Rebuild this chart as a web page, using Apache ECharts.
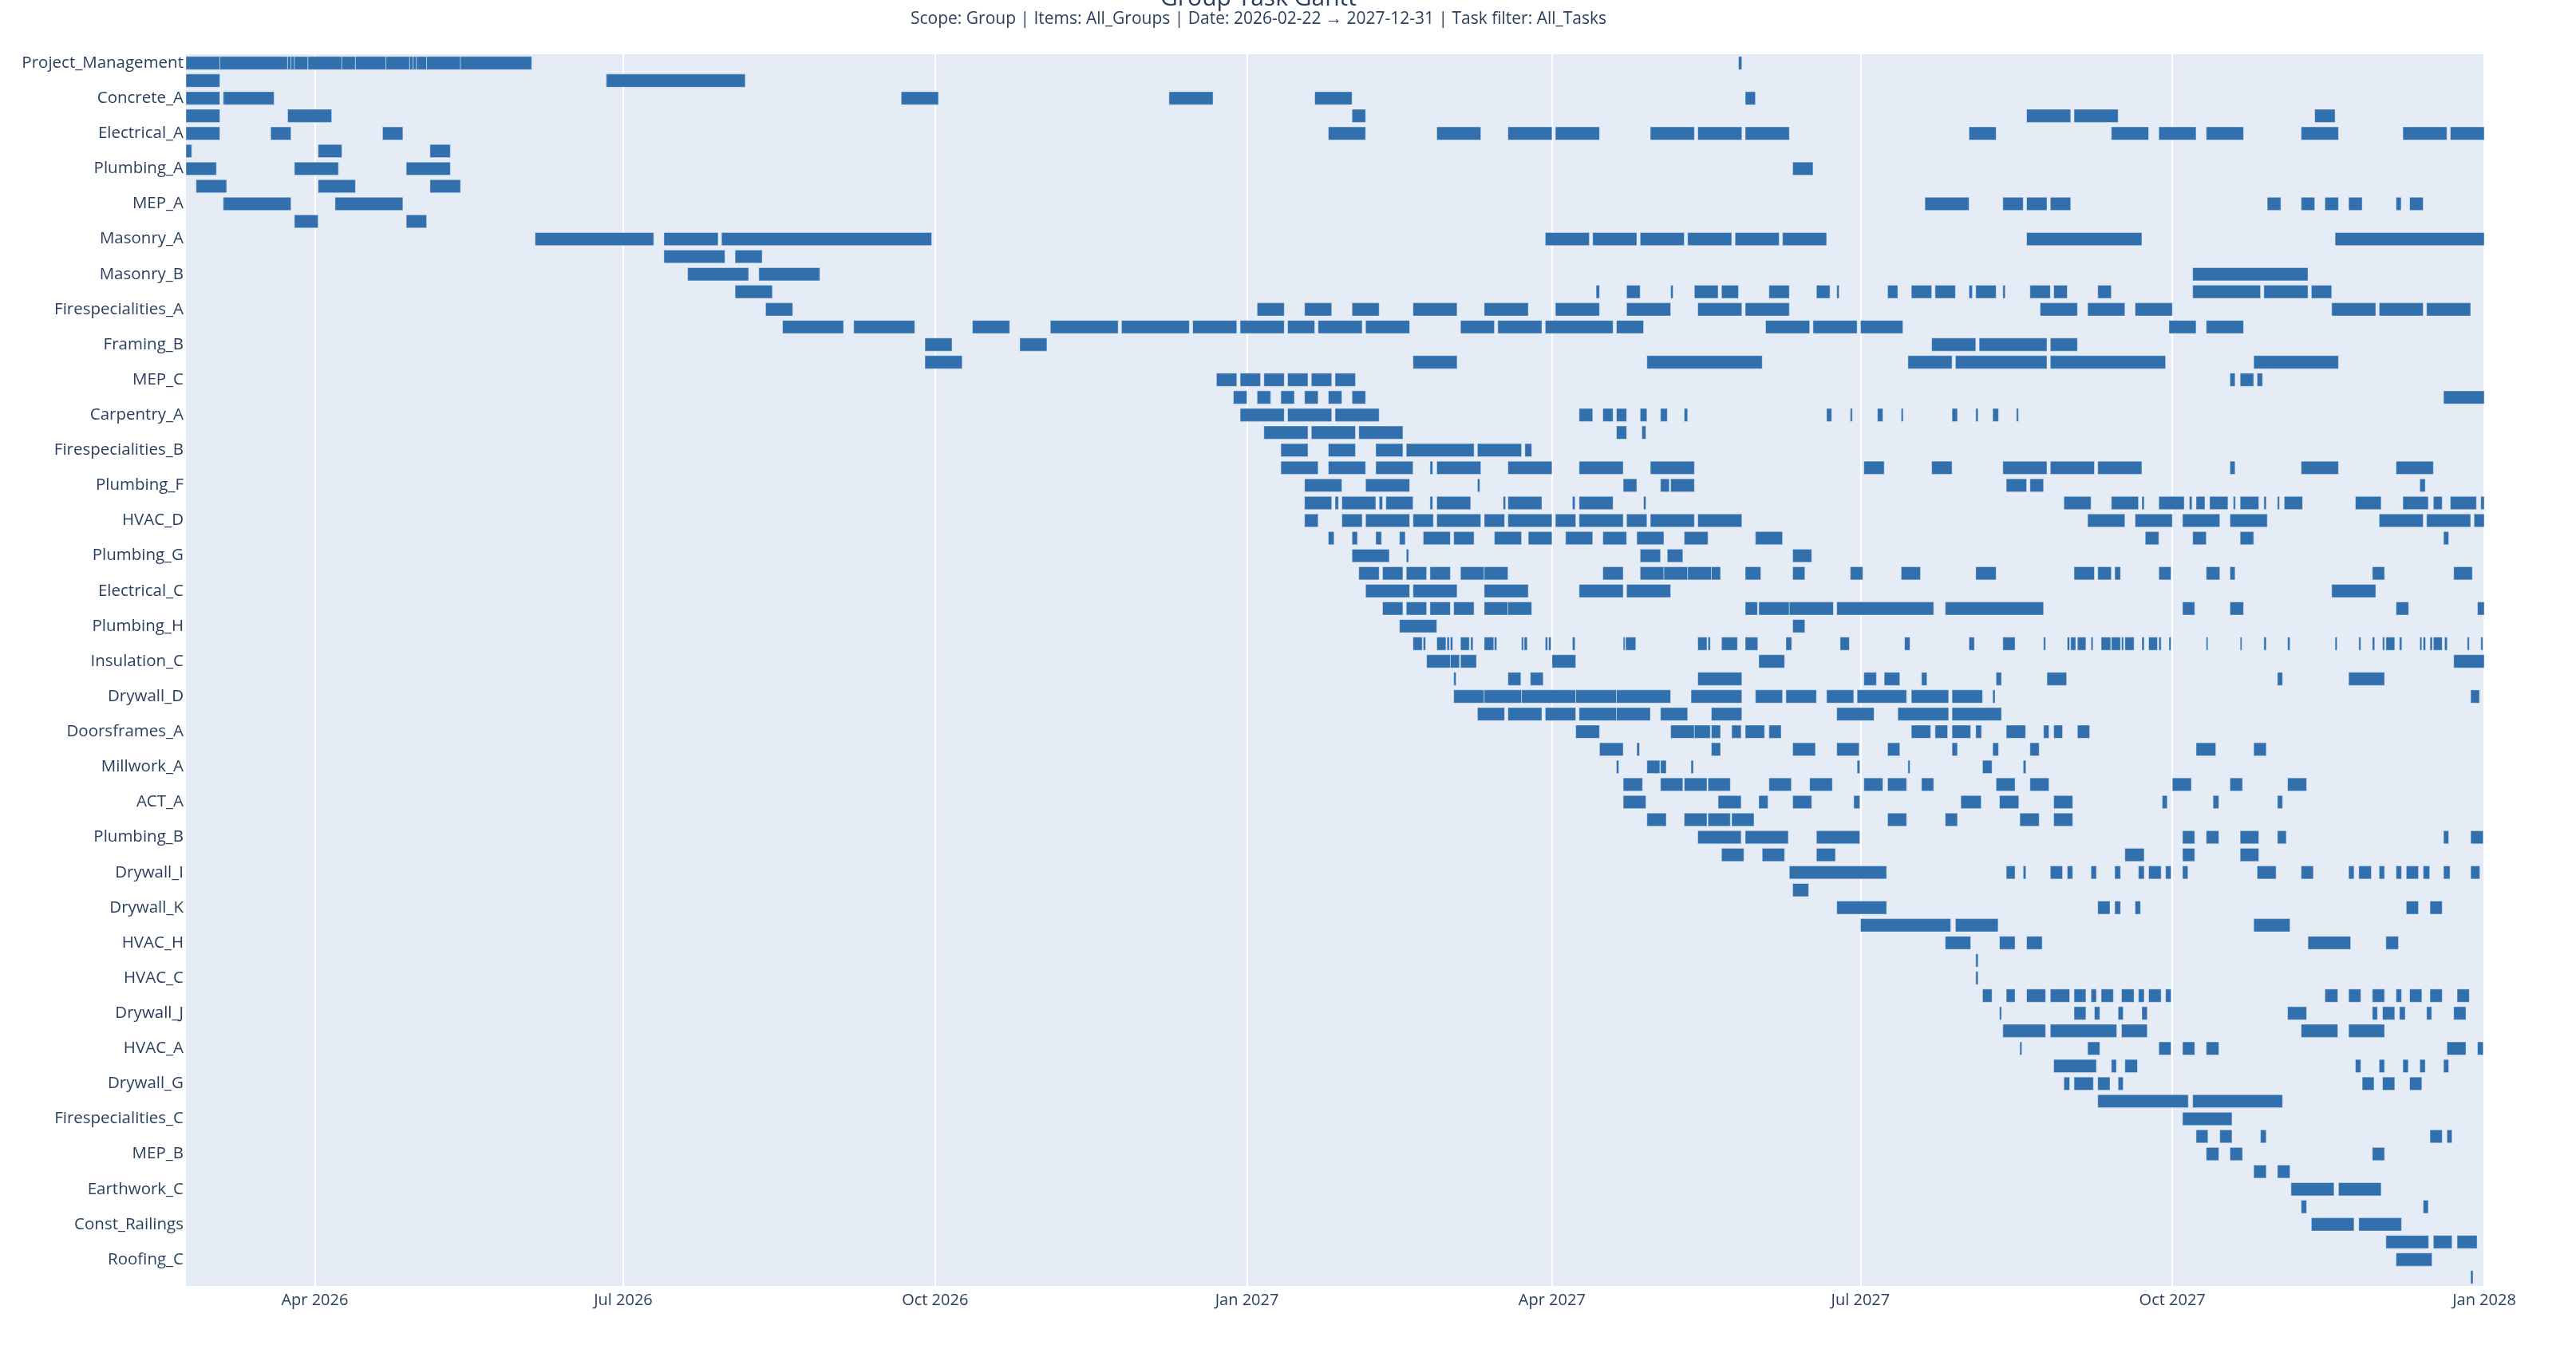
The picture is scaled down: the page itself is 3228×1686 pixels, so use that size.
<!DOCTYPE html>
<html><head><meta charset="utf-8">
<script src="https://cdn.jsdelivr.net/npm/echarts@6/dist/echarts.min.js"></script>
<style>html,body{margin:0;padding:0;background:#fff}#c{width:3228px;height:1686px}</style>
</head><body><div id="c"></div>
<script>
const titleText = 'Group Task Gantt';
const subtitleText = 'Scope: Group | Items: All_Groups | Date: 2026-02-22 \u2192 2027-12-31 | Task filter: All_Tasks';
const categories = [
 'Project_Management','Earthwork_A','Concrete_A','Concrete_B','Electrical_A','Electrical_B','Plumbing_A','Plumbing_C',
 'MEP_A','MEP_D','Masonry_A','Masonry_C','Masonry_B','Framing_A','Firespecialities_A','Firespecialities_D',
 'Framing_B','Framing_C','MEP_C','Carpentry_B','Carpentry_A','Carpentry_C','Firespecialities_B','Plumbing_E',
 'Plumbing_F','HVAC_B','HVAC_D','HVAC_E','Plumbing_G','Plumbing_D','Electrical_C','Electrical_D',
 'Plumbing_H','Insulation_A','Insulation_C','Insulation_B','Drywall_D','Drywall_C','Doorsframes_A','Doorsframes_B',
 'Millwork_A','Millwork_B','ACT_A','ACT_B','Plumbing_B','Plumbing_I','Drywall_I','Drywall_A',
 'Drywall_K','Drywall_B','HVAC_H','HVAC_F','HVAC_C','Drywall_E','Drywall_J','Drywall_F',
 'HVAC_A','HVAC_G','Drywall_G','Drywall_H','Firespecialities_C','Firespecialities_E','MEP_B','MEP_E',
 'Earthwork_C','Earthwork_B','Const_Railings','Roofing_A','Roofing_C','Roofing_B'
];
// axis range and quarterly ticks
const rangeStart = '2026-02-22';
const rangeEnd = '2028-01-01';
const tickDates = ['2026-04-01','2026-07-01','2026-10-01','2027-01-01','2027-04-01','2027-07-01','2027-10-01','2028-01-01'];
const tickLabels = ['Apr 2026','Jul 2026','Oct 2026','Jan 2027','Apr 2027','Jul 2027','Oct 2027','Jan 2028'];
// task bars per row: [start, end] in days after 2026-02-22
const taskBars = [
 [[0,10],[10,30],[30,31],[31,32],[32,36],[36,46],[46,50],[50,59],[59,66],[66,67],[67,68],[68,71],[71,81],[81,102],[458,459]],
 [[0,10],[124,165]],
 [[0,10],[11,26],[211,222],[290,303],[333,344],[460,463]],
 [[0,10],[30,43],[344,348],[543,556],[557,570],[628,634]],
 [[0,10],[25,31],[58,64],[337,348],[369,382],[390,403],[404,417],[432,445],[446,459],[460,473],[526,534],[568,579],[582,593],[596,607],[624,635],[654,667],[668,678]],
 [[0,1.7],[39,46],[72,78]],
 [[0,9],[32,45],[65,78],[474,480]],
 [[3,12],[39,50],[72,81]],
 [[11,31],[44,64],[513,526],[536,542],[543,549],[550,556],[614,618],[624,628],[631,635],[638,642],[652,653.5],[656,660]],
 [[32,39],[65,71]],
 [[103,138],[141,157],[158,220],[401,414],[415,428],[429,442],[443,456],[457,470],[471,484],[543,577],[634,678]],
 [[141,159],[162,170]],
 [[148,166],[169,187],[592,626]],
 [[162,173],[416,417],[425,429],[438,438.7],[445,452],[453,458],[467,473],[481,485],[487,487.7],[502,505],[509,515],[516,522],[526,527],[528,534],[536,536.7],[544,550],[551,555],[564,568],[592,612],[613,626],[627,633]],
 [[171,179],[316,324],[330,338],[344,352],[362,375],[383,396],[404,417],[425,438],[446,459],[460,473],[547,558],[561,572],[575,586],[633,646],[647,660],[661,674]],
 [[176,194],[197,215],[232,243],[255,275],[276,296],[297,310],[311,324],[325,333],[334,347],[348,361],[376,386],[387,400],[401,421],[422,430],[466,479],[480,493],[494,506.5],[585,593],[596,607]],
 [[218,226],[246,254],[515,528],[529,549],[550,558]],
 [[218,229],[362,375],[431,465],[508,521],[522,549],[550,584],[610,635]],
 [[304,310],[311,317],[318,324],[325,331],[332,338],[339,345],[603,604.5],[606,610],[611,612.6]],
 [[309,313],[316,320],[323,327],[330,334],[337,341],[344,348],[666,678]],
 [[311,324],[325,338],[339,352],[411,415],[418,421],[422,425],[429,431],[435,437],[442,443],[484,485.5],[491,491.6],[499,500.6],[506,506.6],[521,522.6],[528,528.7],[533,534.7],[540,540.6]],
 [[318,331],[332,345],[346,359],[422,425],[429.5,430.7]],
 [[323,331],[337,345],[351,359],[360,380],[381,394],[395,397]],
 [[323,334],[337,348],[351,362],[367,367.8],[369,382],[390,403],[411,424],[432,445],[495,501],[515,521],[536,549],[550,563],[564,577],[603,604.5],[624,635],[652,663]],
 [[330,341],[348,361],[381,381.7],[424,428],[435,437.6],[438,445],[537,543],[544,548],[659,660.6]],
 [[330,338],[339,340],[341,351],[352,353],[354,362],[367,367.8],[369,379],[388.6,389.3],[390,400],[409,409.8],[411,421],[430,430.7],[554,562],[568,576],[577,577.7],[582,589.5],[591,591.8],[593,595.6],[597,602.4],[604,604.6],[606,611.5],[613,613.7],[617,617.6],[619,624.4],[640,647.6],[654,661.5],[663,665.6],[668,675.7],[677,678]],
 [[330,334],[341,347],[348,361],[362,368],[369,382],[383,389],[390,403],[404,410],[411,424],[425,431],[432,445],[446,459],[561,572],[575,586],[589,600],[603,614],[647,660],[661,674],[675,678]],
 [[337,338.7],[344,345.6],[351,352.7],[358,359.7],[365,373],[374,380],[386,394],[396,403],[407,415],[418,425],[428,436],[442,449],[463,471],[578,582],[592,596],[606,610],[666,667.5]],
 [[344,355],[360,360.7],[429,435],[437,441.6],[474,479.6]],
 [[346,352],[353,359],[360,366],[367,373],[376,383],[383,390],[418,424],[429,436],[436,443],[443,450],[450,452.7],[460,464.6],[474,477.6],[491,494.7],[506,511.7],[528,534],[557,563],[564,568],[569,570.7],[582,585.6],[596,600],[603,604.5],[645,648.6],[669,674.5]],
 [[348,361],[362,375],[383,396],[411,424],[425,438],[633,646]],
 [[353,359],[360,366],[367,373],[374,380],[383,390],[390,397],[460,463.6],[464,473],[473,486],[487,515.6],[519,548],[589,592.6],[603,607],[652,655.7],[676,678]],
 [[358,369],[474,477.6]],
 [[362,364.7],[365,365.7],[369,371.7],[372,372.7],[373,373.7],[376,378.6],[379,379.7],[383,385.8],[386,386.7],[394,394.6],[394.8,395.7],[401,401.7],[402,402.7],[409,409.8],[424,424.5],[424.7,427.7],[446,448.7],[449,449.7],[453,457.7],[460,463.7],[472,473.7],[488,490.7],[507,508.6],[526,527.6],[536,539.6],[548,548.6],[555,555.7],[556,557.5],[558,560.5],[562,562.6],[565,567.8],[568,570.7],[571,571.6],[572,574.7],[577,577.7],[579,581.6],[582,582.7],[585,585.6],[596,596.5],[606,606.5],[613,613.7],[620,620.7],[634,634.6],[641,641.6],[645,645.7],[648,648.6],[649,651.6],[653,653.7],[659,659.6],[660,660.7],[662,662.7],[663,665.6],[666.3,667.1],[673,673.6],[677,677.6]],
 [[366,373],[373,375.7],[376,380.7],[403,410],[464,471.6],[669,678]],
 [[374,374.7],[390,393.8],[396.6,400.4],[446,459],[495,498.7],[501,505.6],[512,513.6],[534,535.6],[549,554.8],[617,618.5],[638,648.6]],
 [[374,383],[383,394],[394,410],[410,422],[422,438],[444,459],[463,471],[472,481],[484,492],[493,507.6],[509,520],[521,530],[533,533.7],[674,676.6]],
 [[381,389],[390,400],[401,410],[411,422],[422,432],[435,443],[450,459],[487,498],[505,520],[521,535.6]],
 [[410,417],[438,445],[445,449.7],[450,452.7],[456,458.8],[460,465.7],[467,470.6],[509,514.7],[516,519.7],[521,526.5],[528,529.7],[537,542.7],[548,549.6],[551,553.6],[558,561.6]],
 [[417,424],[428,428.8],[450,452.7],[474,480.7],[487,493.6],[502,505.6],[521,522.6],[533,534.7],[544,546.7],[593,598.8],[610,613.7]],
 [[422,422.7],[431,434.8],[435,436.7],[444,444.7],[493,493.8],[508,508.6],[530,532.8],[542,542.8]],
 [[424,429.7],[435,441.6],[442,448.7],[449,455.6],[467,473.6],[479,485.7],[495,500.6],[502,507.6],[512,515.6],[534,539.6],[544,549.6],[586,591.6],[603,606.7],[620,625.6]],
 [[424,430.7],[452,458.8],[464,466.7],[474,479.6],[492,493.8],[523.6,529.6],[535,540.7],[551,556.6],[583,584.5],[598,599.7],[617,618.5]],
 [[431,436.7],[442,448.7],[449,455.6],[456,462.6],[502,507.6],[519,522.6],[541,546.7],[551,556.6]],
 [[446,458.8],[460,472.7],[481,493.8],[589,592.6],[596,599.7],[606,611.5],[617,619.6],[666,667.5],[674,677.7]],
 [[453,459.6],[465,471.6],[481,486.6],[572,577.7],[589,592.6],[606,611.5]],
 [[473,501.7],[537,539.6],[542,542.8],[550,553.6],[555,556.6],[562,563.6],[569,570.7],[576,577.7],[579,582.7],[584,585.6],[589,590.6],[611,616.6],[624,627.6],[638,639.6],[641,644.7],[647,648.6],[652,653.6],[655,658.6],[660,661.9],[666,667.9],[674,676.7]],
 [[474,478.7]],
 [[487,501.7],[564,567.6],[569,570.7],[575,576.6],[655,658.6],[662,665.6]],
 [[494,520.6],[522,534.6],[610,620.7]],
 [[519,526.5],[535,539.6],[543,547.6],[626,638.6],[649,652.7]],
 [[528,528.7]],
 [[528,528.7]],
 [[530,532.8],[537,539.6],[543,548.6],[550,555.7],[557,560.5],[562,563.6],[565,568.6],[571,574.7],[576,577.7],[579,582.7],[584,585.6],[631,634.8],[638,641.6],[645,648.6],[652,653.6],[656,659.6],[662,665.6],[670,673.6]],
 [[535,535.6],[557,560.5],[563,564.6],[570,571.5],[577,578.6],[620,625.6],[645,646.5],[648,651.6],[653,654.7],[661,662.5],[669,672.6]],
 [[536,548.6],[550,569.6],[571,578.6],[624,634.8],[638,648.6]],
 [[541,541.6],[561,564.6],[582,585.6],[589,592.6],[596,599.7],[667,672.6],[676,677.7]],
 [[551,563.6],[568,569.5],[572,575.7],[640,641.6],[647,648.6],[654,655.6],[659,660.6],[666,667.5]],
 [[554,555.7],[557,562.7],[564,567.6],[570,571.5],[642,645.5],[648,651.6],[656,659.6]],
 [[564,590.7],[592,618.5]],
 [[589,603.6]],
 [[593,596.5],[600,603.6],[612,613.7],[662,665.6],[667,668.5]],
 [[596,599.7],[603,606.7],[645,648.6]],
 [[610,613.7],[617,620.7]],
 [[621,633.7],[635,647.6]],
 [[624,625.6],[660,661.5]],
 [[627,639.6],[641,653.6]],
 [[649,661.6],[663,668.5],[670,675.9]],
 [[652,662.6]],
 [[674,674.7]]
];

function parseDay(s){ const p = s.split('-').map(Number); return new Date(p[0], p[1]-1, p[2]).getTime(); }
const DAY = 86400000;
const base = parseDay(rangeStart);
const tickValues = tickDates.map(parseDay);
const data = [];
taskBars.forEach((bars, row) => bars.forEach(b => data.push([row, base + b[0]*DAY, base + b[1]*DAY])));

function renderItem(params, api){
  const row = api.value(0);
  const s = api.coord([api.value(1), row]);
  const e = api.coord([api.value(2), row]);
  const h = api.size([0,1])[1] * 0.745;
  const cs = params.coordSys;
  const shape = echarts.graphic.clipRectByRect(
    {x: s[0], y: s[1]-h/2, width: e[0]-s[0], height: h},
    {x: cs.x, y: cs.y, width: cs.width, height: cs.height});
  return shape && {type:'rect', shape: shape, style:{fill:'#3170ad', stroke:'#E5ECF6', lineWidth:0.5}};
}

const FONT = '"Open Sans", verdana, arial, sans-serif';
const chart = echarts.init(document.getElementById('c'), null, {renderer:'canvas'});
chart.setOption({
  animation:false,
  backgroundColor:'#ffffff',
  title:[
    {text:titleText, left:1572, textAlign:'center', top:-22, textStyle:{fontFamily:FONT, fontSize:30, fontWeight:'normal', color:'#2a3f5f'}},
    {text:subtitleText, left:1572, textAlign:'center', top:9, textStyle:{fontFamily:FONT, fontSize:21, fontWeight:'normal', color:'#2a3f5f'}}
  ],
  grid:{left:233, right:115, top:68, bottom:74, show:true, backgroundColor:'#E5ECF6', borderWidth:0},
  xAxis:{
    type:'value', min:base, max:parseDay(rangeEnd), scale:true,
    axisLine:{show:false}, axisTick:{show:false, customValues:tickValues},
    splitLine:{show:true, lineStyle:{color:'#ffffff', width:2}},
    axisLabel:{customValues:tickValues, margin:8, fontFamily:FONT, fontSize:20, color:'#2a3f5f',
      formatter:function(v){ const i = tickValues.indexOf(v); return i>=0 ? tickLabels[i] : ''; }}
  },
  yAxis:{
    type:'category', data:categories, inverse:true,
    axisLine:{show:false}, axisTick:{show:false}, splitLine:{show:false},
    axisLabel:{interval:1, margin:3, fontFamily:FONT, fontSize:20.5, color:'#2a3f5f'}
  },
  series:[{type:'custom', renderItem:renderItem, encode:{x:[1,2], y:0}, data:data, clip:true}]
});
</script></body></html>
